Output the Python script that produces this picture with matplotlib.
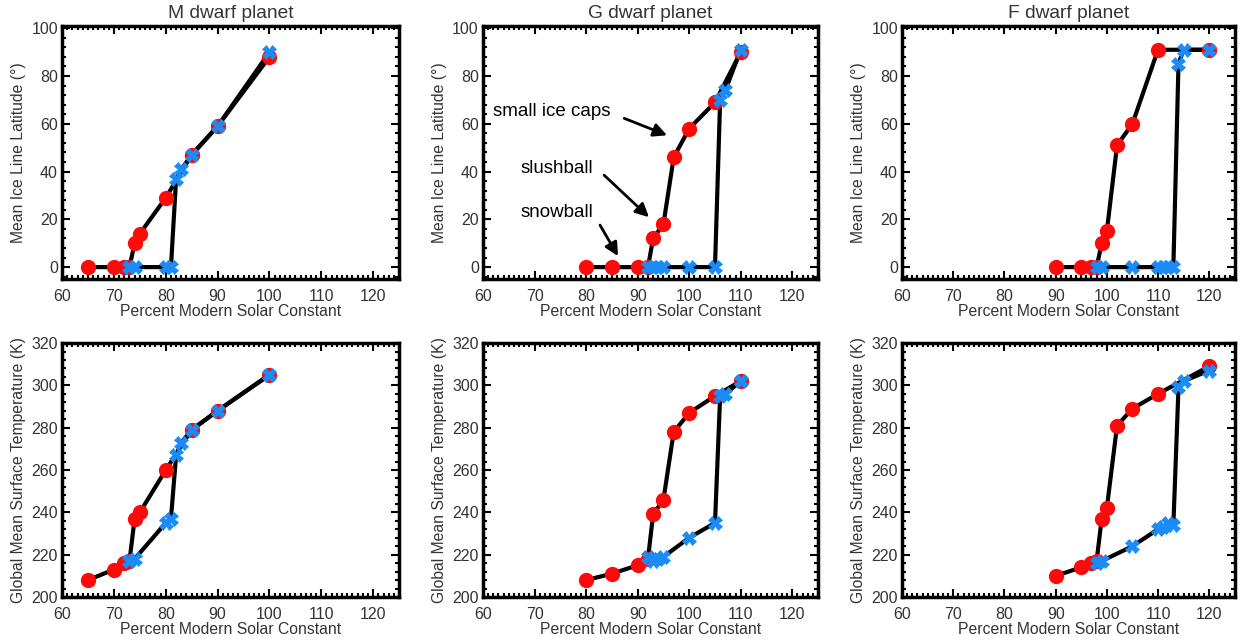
import numpy as np
import matplotlib
matplotlib.use('Agg')
import matplotlib.pyplot as plt
from matplotlib.ticker import MultipleLocator

plt.rcParams['font.family'] = ['Liberation Sans', 'DejaVu Sans']

# red: warming branch, blue: cooling branch (percent modern solar constant)
titles = ['M dwarf planet', 'G dwarf planet', 'F dwarf planet']

m_red_x = [65, 70, 72, 73, 74, 75, 80, 85, 90, 100]
m_red_ice = [0, 0, 0, 0, 10, 14, 29, 47, 59, 88]
m_red_temp = [208, 213, 216, 217, 237, 240, 260, 279, 288, 305]
m_blue_x = [73, 74, 80, 81, 82, 83, 85, 90, 100]
m_blue_ice = [0, 0, 0, 0, 37, 41, 47, 59, 90]
m_blue_temp = [217, 218, 235, 237, 267, 273, 279, 288, 305]

g_red_x = [80, 85, 90, 92, 93, 95, 97, 100, 105, 110]
g_red_ice = [0, 0, 0, 0, 12, 18, 46, 58, 69, 90]
g_red_temp = [208, 211, 215, 218, 239, 246, 278, 287, 295, 302]
g_blue_x = [92, 93, 94, 95, 100, 105, 106, 107, 110]
g_blue_ice = [0, 0, 0, 0, 0, 0, 70, 74, 91]
g_blue_temp = [219, 217, 218, 219, 228, 235, 295, 296, 302]

f_red_x = [90, 95, 97, 98, 99, 100, 102, 105, 110, 120]
f_red_ice = [0, 0, 0, 0, 10, 15, 51, 60, 91, 91]
f_red_temp = [210, 214, 216, 217, 237, 242, 281, 289, 296, 309]
f_blue_x = [98, 99, 105, 110, 111, 112, 113, 114, 115, 120]
f_blue_ice = [0, 0, 0, 0, 0, 0, 0, 85, 91, 91]
f_blue_temp = [216, 217, 224, 232, 233, 235, 234, 299, 302, 307]

panels = [
    (m_red_x, m_red_ice, m_red_temp, m_blue_x, m_blue_ice, m_blue_temp),
    (g_red_x, g_red_ice, g_red_temp, g_blue_x, g_blue_ice, g_blue_temp),
    (f_red_x, f_red_ice, f_red_temp, f_blue_x, f_blue_ice, f_blue_temp),
]

txt = '#333333'
red = '#ff0a0a'
blue = '#1b8cf5'

fig = plt.figure(figsize=(12.46, 6.43), dpi=100)
lefts = [0.0498, 0.3876, 0.724]
widths = [0.2705, 0.269, 0.267]
bottoms = [0.566, 0.0715]
heights = [0.393, 0.395]


def style(ax):
    ax.set_xlim(60, 125)
    ax.xaxis.set_major_locator(MultipleLocator(10))
    ax.xaxis.set_minor_locator(MultipleLocator(1))
    ax.tick_params(which='both', direction='in', top=True, right=True,
                   width=1.5, colors='black', labelcolor=txt, labelsize=11.5)
    ax.tick_params(which='major', length=6)
    ax.tick_params(which='minor', length=3)
    ax.tick_params(axis='x', pad=7)
    ax.tick_params(axis='y', pad=3)
    for s in ax.spines.values():
        s.set_linewidth(2.5)
    ax.set_xlabel('Percent Modern Solar Constant', fontsize=11.3, color=txt,
                  labelpad=0)


for i, (rx, ri, rt, bx, bi, bt) in enumerate(panels):
    for row, (ry, by) in enumerate([(ri, bi), (rt, bt)]):
        ax = fig.add_axes([lefts[i], bottoms[row], widths[i], heights[row]])
        ax.plot(rx, ry, color='black', lw=3, zorder=1)
        ax.plot(bx, by, color='black', lw=3, zorder=1)
        ax.plot(rx, ry, 'o', color=red, ms=10, zorder=2)
        ax.plot(bx, by, 'X', color=blue, ms=10, mec=blue, mew=0.5, zorder=3)
        style(ax)
        if row == 0:
            ax.set_ylim(-5, 100.8)
            ax.yaxis.set_major_locator(MultipleLocator(20))
            ax.yaxis.set_minor_locator(MultipleLocator(4))
            ax.set_ylabel('Mean Ice Line Latitude (°)', fontsize=11.3, color=txt,
                          labelpad=4)
            ax.set_title(titles[i], fontsize=13.8, color=txt, pad=6)
        else:
            ax.set_ylim(200, 320)
            ax.yaxis.set_major_locator(MultipleLocator(20))
            ax.yaxis.set_minor_locator(MultipleLocator(4))
            ax.set_ylabel('Global Mean Surface Temperature (K)', fontsize=11.3,
                          color=txt, labelpad=4)
        if i == 1 and row == 0:
            arrow = dict(arrowstyle='-|>', lw=2, color='black',
                         mutation_scale=20, shrinkA=0, shrinkB=0)
            ax.annotate('', xy=(95.7, 55.2), xytext=(87.4, 62.3), arrowprops=arrow)
            ax.annotate('', xy=(92.2, 20.9), xytext=(83.5, 38.5), arrowprops=arrow)
            ax.annotate('', xy=(86.2, 4.6), xytext=(82.7, 17.6), arrowprops=arrow)
            ax.text(61.9, 65, 'small ice caps', fontsize=13.5, va='center')
            ax.text(67.3, 41.3, 'slushball', fontsize=13.5, va='center')
            ax.text(67.3, 22.7, 'snowball', fontsize=13.5, va='center')

fig.savefig('out.png', dpi=100)
